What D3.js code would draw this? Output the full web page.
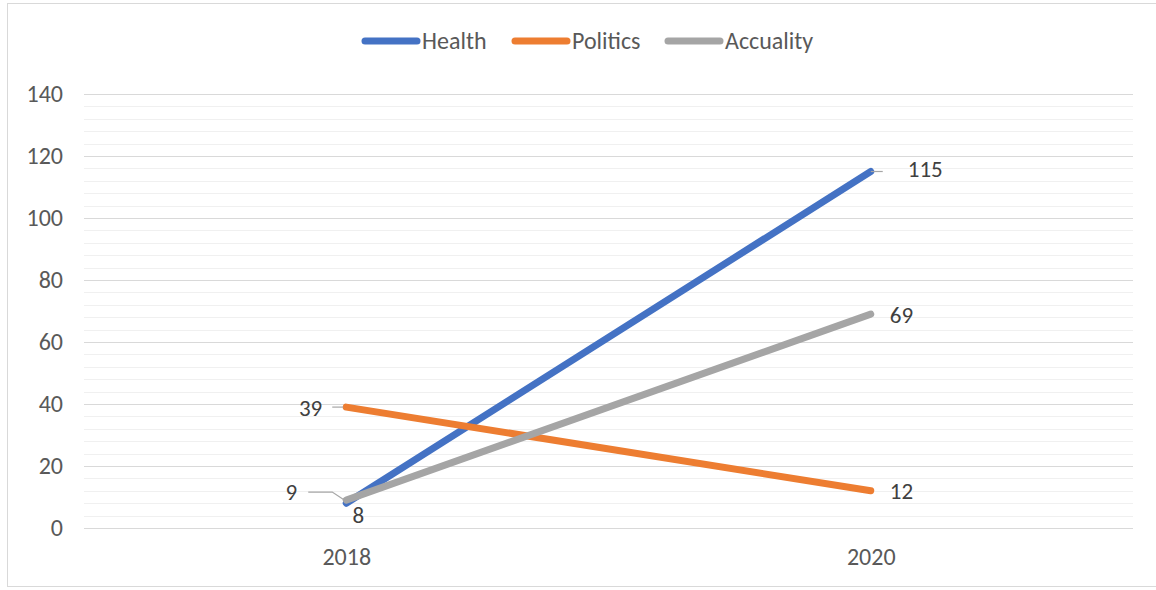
<!DOCTYPE html>
<html>
<head>
<meta charset="utf-8">
<script src="https://cdn.jsdelivr.net/npm/d3@7"></script>
<style>
  html, body { margin: 0; padding: 0; background: #fff; }
  svg { display: block; font-family: Carlito, Calibri, "Open Sans", sans-serif; }
</style>
</head>
<body>
<div id="chart"></div>
<script>
// Daten
const years = ["2018", "2020"];
const seriesNames = ["Health", "Politics", "Accuality"];
const health = [8, 115];
const politics = [39, 12];
const accuality = [9, 69];
const yTicks = [0, 20, 40, 60, 80, 100, 120, 140];

const W = 1156, H = 590;
const M = { top: 94, right: 23, bottom: 62, left: 84 };
const font = "Carlito, Calibri, 'Open Sans', sans-serif";

const colors = { Health: "#4472C4", Politics: "#ED7D31", Accuality: "#A5A5A5" };
const values = { Health: health, Politics: politics, Accuality: accuality };

const svg = d3.select("#chart").append("svg")
  .attr("width", W)
  .attr("height", H);

// Rahmen
svg.append("rect")
  .attr("x", 7.5).attr("y", 3.5)
  .attr("width", W + 10).attr("height", 583)
  .attr("fill", "none")
  .attr("stroke", "#d9d9d9");

// Skalen
const x = d3.scalePoint().domain(years).range([M.left, W - M.right]).padding(0.5);
const y = d3.scaleLinear().domain([0, 140]).range([H - M.bottom, M.top]);

// Hilfsgitter (alle 4)
svg.append("g")
  .selectAll("line")
  .data(d3.range(0, 141, 4).filter(v => v % 20 !== 0))
  .join("line")
  .attr("x1", M.left).attr("x2", W - M.right)
  .attr("y1", d => Math.round(y(d)) + 0.5).attr("y2", d => Math.round(y(d)) + 0.5)
  .attr("stroke", "#f0f0f0")
  .attr("stroke-width", 1);

// Hauptgitter
const gy = svg.append("g")
  .attr("transform", `translate(${M.left},0)`)
  .call(d3.axisLeft(y).tickValues(yTicks).tickSize(-(W - M.left - M.right)).tickPadding(21));
gy.select(".domain").remove();
gy.selectAll(".tick line").attr("stroke", "#d9d9d9").attr("stroke-width", 1.2);
gy.selectAll(".tick text")
  .style("font-size", "24px")
  .style("fill", "#595959")
  .style("font-family", font);

// X-Achse
const gx = svg.append("g")
  .attr("transform", `translate(0,${H - M.bottom})`)
  .call(d3.axisBottom(x).tickSize(0).tickPadding(20));
gx.select(".domain").remove();
gx.selectAll(".tick text")
  .style("font-size", "24px")
  .style("fill", "#595959")
  .style("font-family", font);

// Linien
const line = d3.line()
  .x((d, i) => x(years[i]))
  .y(d => y(d));

seriesNames.forEach(name => {
  svg.append("path")
    .datum(values[name])
    .attr("d", line)
    .attr("fill", "none")
    .attr("stroke", colors[name])
    .attr("stroke-width", 7)
    .attr("stroke-linecap", "round");
});

// Datenbeschriftungen (Offsets relativ zum Punkt)
const labels = [
  { s: "Health", i: 0, dx: 12, dy: 12, anchor: "middle", leader: null },
  { s: "Health", i: 1, dx: 37, dy: -3, anchor: "start", leader: [[0, 0], [12, 0]] },
  { s: "Politics", i: 0, dx: -24, dy: 1, anchor: "end", leader: [[-3, 0], [-14, 0]] },
  { s: "Politics", i: 1, dx: 19, dy: 0, anchor: "start", leader: null },
  { s: "Accuality", i: 0, dx: -49, dy: -8, anchor: "end", leader: [[-2, 0], [-14, -8], [-38, -8]] },
  { s: "Accuality", i: 1, dx: 19, dy: 1, anchor: "start", leader: null }
];

labels.forEach(l => {
  const px = x(years[l.i]);
  const py = y(values[l.s][l.i]);
  if (l.leader) {
    svg.append("path")
      .attr("d", d3.line()(l.leader.map(p => [px + p[0], py + p[1]])))
      .attr("fill", "none")
      .attr("stroke", "#a6a6a6")
      .attr("stroke-width", 1.2);
  }
  svg.append("text")
    .attr("x", px + l.dx)
    .attr("y", py + l.dy)
    .attr("dy", "0.35em")
    .attr("text-anchor", l.anchor)
    .style("font-size", "23px")
    .style("fill", "#404040")
    .text(values[l.s][l.i]);
});

// Legende
const legendX = [362, 512, 665];
seriesNames.forEach((name, i) => {
  const g = svg.append("g").attr("transform", `translate(${legendX[i]},41)`);
  g.append("line")
    .attr("x1", 3).attr("x2", 55)
    .attr("stroke", colors[name])
    .attr("stroke-width", 7)
    .attr("stroke-linecap", "round");
  g.append("text")
    .attr("x", 60)
    .attr("dy", "0.35em")
    .style("font-size", "24px")
    .style("fill", "#595959")
    .text(name);
});
</script>
</body>
</html>
